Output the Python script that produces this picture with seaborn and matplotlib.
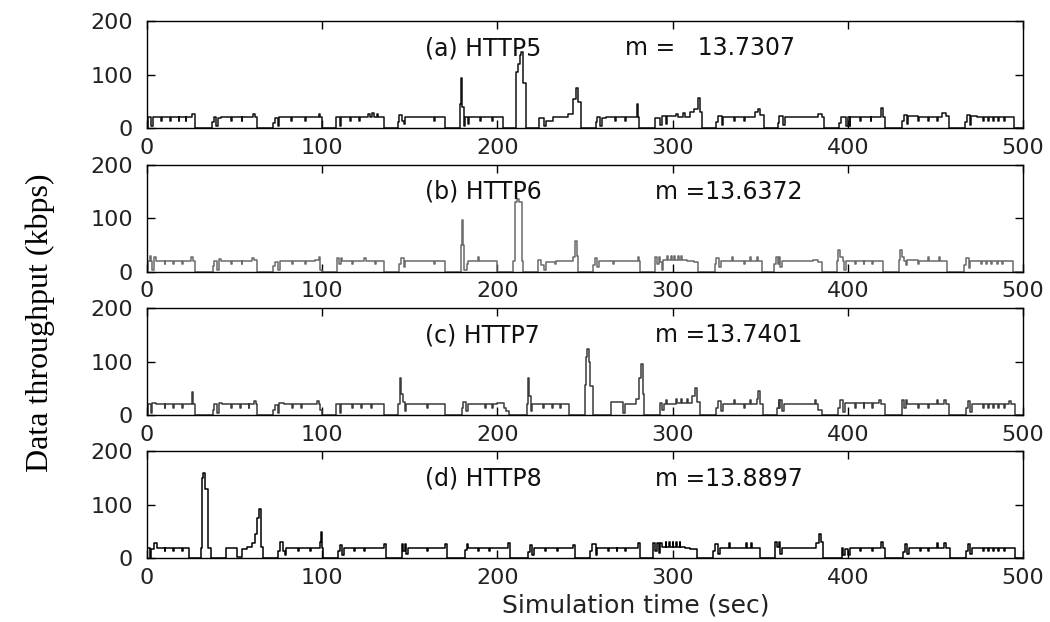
import matplotlib
matplotlib.use("Agg")
import matplotlib.pyplot as plt
import seaborn as sns

# ---------------- data (step breakpoints: time in s, throughput in kbps) ----------------
a_time = [0, 0.5, 2.5, 3.5, 8, 8.5, 13, 13.5, 18, 18.5, 22, 22.5, 25.5, 27.5,
          37, 38, 39.5, 40.5, 42, 48, 48.5, 54, 54.5, 60.5, 61.5, 63,
          72, 73, 74.5, 75.5, 82, 82.5, 90, 90.5, 98, 99, 100,
          108, 110, 111, 116, 116.5, 121, 121.5, 126, 127, 128.5, 129.5, 131, 132, 135,
          143, 144, 145.5, 146.5, 147.5, 164, 164.5, 170,
          178.5, 179.3, 180, 180.7, 181.7, 183, 184, 190, 190.5, 197, 197.5, 203,
          210.6, 212, 213, 213.6, 214.4, 216.3,
          224, 226.5, 227.5, 232, 240.5, 243.3, 244.9, 246, 247.5,
          256, 257, 258.5, 259.5, 262, 267, 267.5, 273, 273.5, 279.5, 280.5, 281,
          290, 293, 294, 296, 297, 302, 303, 306, 307, 310, 312, 314.5, 315.5, 316.5,
          325, 326, 328, 329, 335, 335.5, 341, 341.5, 347, 349, 350, 352,
          360, 361, 363, 364, 383, 385, 386.5,
          395, 396, 399, 400, 401, 401.5, 407, 407.5, 413, 413.5, 419, 420, 421,
          431, 432, 433.5, 434.5, 440, 440.5, 446, 446.5, 451, 451.5, 454, 456, 458,
          467, 468, 469.5, 470.5, 474, 477, 477.5, 480, 480.5, 483, 483.5, 486, 486.5, 489, 489.5, 495, 500]
a_kbps = [0, 20, 3, 20, 14, 20, 14, 20, 14, 20, 14, 20, 26, 0,
          12, 20, 4, 18, 20, 14, 20, 14, 20, 26, 20, 0,
          10, 18, 4, 20, 14, 20, 14, 20, 26, 20, 0,
          20, 3, 20, 14, 20, 14, 20, 27, 20, 28, 20, 27, 20, 0,
          12, 25, 14, 8, 20, 14, 20, 0,
          45, 93, 40, 3, 20, 8, 20, 14, 20, 14, 20, 0,
          105, 120, 136, 142, 85, 0,
          18, 4, 14, 20, 27, 55, 74, 48, 0,
          12, 20, 4, 18, 20, 14, 20, 14, 20, 45, 20, 0,
          18, 6, 22, 8, 22, 26, 20, 28, 20, 30, 35, 56, 30, 0,
          12, 22, 6, 20, 14, 20, 14, 20, 30, 35, 24, 0,
          10, 22, 6, 20, 26, 20, 0,
          10, 20, 4, 20, 3, 20, 14, 20, 14, 20, 38, 20, 0,
          14, 25, 8, 22, 14, 20, 14, 20, 14, 20, 28, 22, 0,
          12, 24, 6, 22, 20, 14, 20, 14, 20, 14, 20, 14, 20, 14, 20, 0, 0]

b_time = [0, 0.5, 1.5, 2.2, 3, 4, 5, 10, 10.5, 15, 15.5, 20, 20.5, 25, 26, 27.4,
          37.5, 38.5, 40, 41, 42, 48, 48.5, 54, 54.5, 60, 61, 63,
          72, 73, 75, 76, 83, 83.5, 90, 90.5, 96, 98, 99, 100,
          108.5, 109.5, 110.5, 111.5, 117, 117.5, 124, 125, 130, 130.5, 135,
          144, 145, 146.5, 147.5, 164, 164.5, 170,
          179.3, 179.8, 180.5, 181.2, 182.5, 183, 189, 189.5, 200,
          208.7, 210, 211.3, 212.3, 213.9, 214.4,
          223, 225, 226.5, 227.5, 233, 233.5, 243, 244.5, 245.3, 246,
          254.7, 255.5, 257, 258, 266, 266.5, 280, 281, 281.5,
          290, 291, 292, 293, 294, 294.5, 297, 297.5, 299, 299.5, 301, 301.5, 303, 303.5, 305, 305.5, 308, 312, 314.5,
          324, 325, 326.5, 327.5, 334, 334.5, 341, 341.5, 344, 344.5, 348, 348.5, 351,
          358, 359, 360, 360.5, 361.5, 362.5, 380, 383, 385,
          394, 394.5, 395.5, 397, 398, 399, 404, 404.5, 409, 409.5, 414, 414.5, 420,
          429, 430, 431, 432, 433, 434, 440, 440.5, 446, 446.5, 452, 452.5, 456.5,
          466.5, 467.5, 469, 470, 476, 476.5, 479, 479.5, 482, 482.5, 485, 485.5, 488, 488.5, 494, 500]
b_kbps = [0, 20, 30, 20, 4, 28, 20, 14, 20, 14, 20, 14, 20, 28, 20, 0,
          10, 20, 4, 24, 20, 14, 20, 14, 20, 26, 22, 0,
          10, 18, 4, 20, 14, 20, 14, 20, 22, 28, 4, 0,
          26, 14, 26, 20, 14, 20, 26, 20, 14, 20, 0,
          14, 26, 8, 20, 14, 20, 0,
          49, 97, 49, 3, 14, 20, 28, 20, 0,
          20, 130, 136, 130, 20, 0,
          22, 12, 4, 18, 14, 20, 28, 58, 30, 0,
          12, 26, 8, 20, 14, 20, 28, 20, 0,
          28, 14, 28, 18, 3, 22, 30, 22, 30, 22, 30, 22, 30, 22, 30, 22, 20, 18, 0,
          14, 26, 8, 20, 28, 20, 14, 20, 28, 20, 28, 20, 0,
          14, 28, 14, 28, 8, 20, 22, 18, 0,
          20, 40, 28, 20, 4, 20, 14, 20, 14, 20, 14, 20, 0,
          22, 40, 28, 20, 12, 22, 14, 20, 28, 20, 28, 20, 0,
          12, 26, 6, 20, 14, 20, 14, 20, 14, 20, 14, 20, 14, 20, 0, 0]

c_time = [0, 0.5, 2, 3, 5, 10, 10.5, 15, 15.5, 20, 20.5, 25.5, 26.3, 27.4,
          37.5, 38.5, 40, 41, 43, 48, 48.5, 53, 53.5, 58, 58.5, 61, 62, 63,
          72, 73, 74.5, 75.5, 78, 83, 83.5, 88, 88.5, 97, 98, 99, 100,
          108, 110, 111, 117, 117.5, 122, 122.5, 128, 128.5, 135,
          143.5, 144.3, 145, 146, 147, 148, 160, 160.5, 170,
          179.6, 180.5, 182, 183, 193, 193.5, 197, 197.5, 200, 204, 205, 206.6,
          216.7, 217.3, 218, 219, 220, 226, 226.5, 231, 231.5, 236, 236.5, 241,
          250, 250.5, 251.3, 252, 252.8, 254.3,
          265, 271.6, 273, 279, 281, 282.2, 283.2, 283.7,
          293, 294, 295, 296, 297, 302, 302.5, 305, 305.5, 308, 308.5, 311, 313, 314, 315.6,
          325, 326, 327.5, 328.5, 335, 335.5, 341, 341.5, 344, 344.5, 348, 349, 350, 351.4,
          359.4, 360.5, 361, 361.5, 362.5, 363.5, 381, 382, 383, 385,
          394.5, 395.5, 397, 397.5, 398.5, 404, 404.5, 409, 409.5, 414, 414.5, 418, 419, 421,
          430.7, 432, 433, 434, 440, 440.5, 446, 446.5, 451, 451.5, 455, 456, 458,
          467.5, 468.5, 470, 471, 477, 477.5, 480, 480.5, 483, 483.5, 486, 486.5, 489, 489.5, 492, 493, 495.4, 500]
c_kbps = [0, 20, 4, 22, 20, 14, 20, 14, 20, 14, 20, 43, 20, 0,
          10, 20, 4, 22, 20, 14, 20, 14, 20, 14, 20, 26, 20, 0,
          10, 18, 4, 22, 20, 14, 20, 14, 20, 26, 20, 10, 0,
          20, 4, 20, 14, 20, 14, 20, 14, 20, 0,
          20, 70, 40, 25, 8, 20, 14, 20, 0,
          14, 24, 8, 20, 14, 20, 14, 20, 22, 14, 8, 0,
          20, 70, 35, 8, 20, 14, 20, 14, 20, 14, 20, 0,
          57, 108, 124, 100, 55, 0,
          24, 3, 20, 30, 70, 96, 40, 0,
          22, 10, 20, 28, 20, 30, 22, 30, 22, 30, 22, 35, 50, 25, 0,
          14, 26, 8, 20, 28, 20, 14, 20, 28, 20, 30, 45, 20, 0,
          14, 28, 14, 28, 8, 20, 28, 20, 10, 0,
          14, 28, 20, 6, 22, 14, 22, 14, 22, 14, 22, 28, 20, 0,
          28, 14, 28, 20, 14, 20, 14, 20, 28, 20, 28, 20, 0,
          14, 26, 6, 20, 14, 20, 14, 20, 14, 20, 14, 20, 14, 20, 26, 20, 0, 0]

d_time = [0, 0.2, 1.5, 2.5, 4, 5.5, 10, 10.5, 15, 15.5, 20, 20.5, 24.1,
          30.6, 31.5, 32.2, 33.2, 34.8, 36.8,
          45.1, 51.2, 54, 56.9, 59.7, 61.6, 62.9, 64.1, 64.9, 66.4,
          75, 76, 77.5, 78.5, 79.5, 86, 86.5, 93, 93.5, 98.5, 99.3, 99.8, 100.3,
          109, 110, 111.5, 112.5, 118, 118.5, 124, 124.5, 135, 136.4,
          145.3, 146, 147, 148, 149, 160, 160.5, 170, 171,
          181.5, 182.5, 183.5, 189, 189.5, 195, 195.5, 206, 207.3,
          217.5, 218.5, 220, 221, 227, 227.5, 234, 234.5, 243, 244.3,
          253, 254, 256, 257, 263, 263.5, 268, 268.5, 273, 273.5, 280, 281.4,
          288.6, 290, 291, 292, 293, 294, 296, 296.5, 298, 298.5, 300, 300.5, 302, 302.5, 304, 304.5, 307, 310, 313.7,
          323, 324, 326, 327, 332, 332.5, 342, 342.5, 345, 345.5, 350,
          358.5, 359.5, 360.5, 361.5, 362.5, 382, 383.5, 384.5, 385.6,
          396.5, 397.5, 398.5, 400, 401, 407, 407.5, 414, 414.5, 419, 420, 421.3,
          431.5, 432.5, 434, 435, 441, 441.5, 446, 446.5, 451, 451.5, 455, 456, 458.3,
          467.5, 468.5, 470, 471, 477, 477.5, 480, 480.5, 483, 483.5, 486, 486.5, 489, 489.5, 495.4, 500]
d_kbps = [0, 20, 0, 18, 28, 20, 14, 20, 14, 20, 14, 20, 0,
          20, 150, 160, 130, 20, 0,
          20, 3, 18, 22, 28, 45, 75, 92, 22, 0,
          14, 30, 14, 6, 20, 14, 20, 14, 20, 30, 49, 20, 0,
          14, 24, 6, 20, 14, 20, 14, 20, 26, 0,
          26, 14, 26, 8, 20, 14, 20, 26, 0,
          16, 26, 20, 14, 20, 14, 20, 28, 0,
          12, 24, 6, 20, 14, 20, 14, 20, 24, 0,
          14, 26, 6, 20, 14, 20, 14, 20, 14, 20, 28, 0,
          28, 14, 28, 10, 28, 22, 30, 22, 30, 22, 30, 22, 30, 22, 30, 22, 20, 18, 0,
          14, 26, 8, 20, 28, 20, 28, 20, 28, 20, 0,
          30, 22, 30, 8, 20, 28, 45, 30, 0,
          20, 6, 18, 6, 20, 14, 20, 14, 20, 30, 20, 0,
          12, 26, 8, 20, 14, 20, 14, 20, 28, 20, 28, 20, 0,
          14, 26, 8, 20, 14, 20, 14, 20, 14, 20, 14, 20, 14, 20, 0, 0]

panel_labels = ["(a) HTTP5", "(b) HTTP6", "(c) HTTP7", "(d) HTTP8"]
mean_labels = ["m =   13.7307", "m =13.6372", "m =13.7401", "m =13.8897"]
x_ticks = [0, 100, 200, 300, 400, 500]
y_ticks = [0, 100, 200]

series = [(a_time, a_kbps), (b_time, b_kbps), (c_time, c_kbps), (d_time, d_kbps)]
for t, v in series:
    assert len(t) == len(v), (len(t), len(v))

# ---------------- styling ----------------
sns.set_theme(style="white")
plt.rcParams["font.family"] = ["DejaVu Sans"]

line_colors = ["#111111", "#6a6a6a", "#3a3a3a", "#000000"]
mean_x = [272.8, 290, 290, 290]
bottoms = [0.7942, 0.5632, 0.3328, 0.1024]

fig = plt.figure(figsize=(10.5, 6.22), dpi=100)
fig.patch.set_facecolor("white")

for i, ((t, v), bot) in enumerate(zip(series, bottoms)):
    ax = fig.add_axes([0.14, bot, 0.8343, 0.172])
    ax.set_facecolor("white")
    sns.lineplot(x=t, y=v, ax=ax, estimator=None, sort=False,
                 drawstyle="steps-post", color=line_colors[i], linewidth=1.1)
    ax.set_xlim(0, 500)
    ax.set_ylim(0, 200)
    ax.set_xticks(x_ticks)
    ax.set_yticks(y_ticks)
    ax.set_xticklabels([str(x) for x in x_ticks])
    ax.set_yticklabels([str(y) for y in y_ticks])
    ax.tick_params(axis="x", direction="in", top=True, bottom=True, length=6,
                   width=1, pad=7, labelsize=16, labelcolor="#222222", color="black")
    ax.tick_params(axis="y", direction="in", left=True, right=True, length=6,
                   width=1, pad=10, labelsize=16, labelcolor="#222222", color="black")
    for sp in ax.spines.values():
        sp.set_visible(True)
        sp.set_color("black")
        sp.set_linewidth(1.0)
    ax.set_xlabel("")
    ax.set_ylabel("")
    ax.grid(False)
    ax.text(158.7, 149, panel_labels[i], fontsize=17, color="#111111",
            ha="left", va="center")
    ax.text(mean_x[i], 149, mean_labels[i], fontsize=17, color="#111111",
            ha="left", va="center")

fig.text(0.605, 0.027, "Simulation time (sec)", fontsize=18, color="#222222",
         ha="center", va="center")
fig.text(0.038, 0.481, "Data throughput (kbps)", fontsize=23, rotation=90,
         family=["Liberation Serif", "DejaVu Serif"], color="black",
         ha="center", va="center")

fig.savefig("out.png", dpi=100, facecolor="white")
